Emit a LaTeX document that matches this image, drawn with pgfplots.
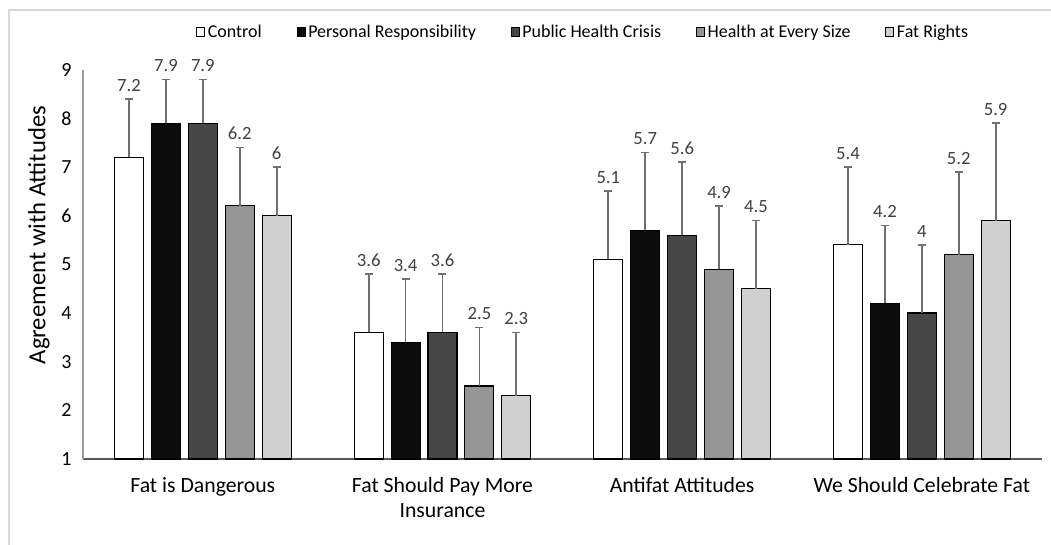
\documentclass[border=0pt]{standalone}
\usepackage{fontspec}
\setmainfont{Carlito}
\usepackage{pgfplots}
\usepackage{pgfplotstable}
\pgfplotsset{compat=1.18}
\definecolor{cPR}{HTML}{0D0D0D}
\definecolor{cPH}{HTML}{474747}
\definecolor{cHA}{HTML}{959595}
\definecolor{cFR}{HTML}{D0D0D0}
\definecolor{errc}{HTML}{707070}
\definecolor{axc}{HTML}{595959}
\definecolor{brd}{HTML}{D9D9D9}
\definecolor{lbl}{HTML}{404040}
\pgfplotstableread{
x c ce p pe h he s se f fe
0 7.2 1.2 7.9 0.9 7.9 0.9 6.2 1.2 6 1.0
1 3.6 1.2 3.4 1.3 3.6 1.2 2.5 1.2 2.3 1.3
2 5.1 1.4 5.7 1.6 5.6 1.5 4.9 1.3 4.5 1.4
3 5.4 1.6 4.2 1.6 4 1.4 5.2 1.7 5.9 2.0
}\datatable
\pgfplotsset{
  mybar/.style={draw=black, line width=0.8pt, fill=#1,
      error bars/y dir=plus, error bars/y explicit,
      error bars/error mark=-,
      error bars/error bar style={draw=errc, line width=1.3pt},
      error bars/error mark options={rotate=90, draw=errc, line width=1.3pt, mark size=3pt},
  },
}
\begin{document}
\begin{tikzpicture}
\path[use as bounding box] (-62.25pt,-63.75pt) rectangle (726pt,344.25pt);
\begin{axis}[
  at={(0,0)}, anchor=south west,
  scale only axis,
  width=719pt, height=292pt,
  xmin=-0.5, xmax=3.5,
  ymin=1, ymax=9,
  ytick={1,2,...,9},
  xtick={0,1,2,3},
  xticklabels={Fat is Dangerous,{Fat Should Pay More\\Insurance},Antifat Attitudes,We Should Celebrate Fat},
  xticklabel style={align=center, font=\fontsize{16.3}{19}\selectfont, yshift=-10pt},
  yticklabel style={font=\fontsize{15}{18}\selectfont, xshift=-5pt},
  /pgf/number format/assume math mode=true,
  major tick length=0pt,
  axis x line*=bottom,
  axis y line*=left,
  x axis line style={axc, line width=1.3pt, -},
  y axis line style={axc!60, line width=0.8pt, -},
  ylabel={Agreement with Attitudes},
  ylabel style={font=\fontsize{18.5}{22}\selectfont, at={(axis description cs:-0.046,0.575)}, anchor=center},
  ybar=0pt,
  bar width=0.121,
  nodes near coords={\fontsize{14}{16}\selectfont\pgfmathprintnumber{\pgfplotspointmeta}},
  every node near coord/.append style={text=lbl, anchor=south, shift={(axis direction cs:0,\err)}, yshift=2pt},
  legend style={at={(0.522,1)}, anchor=south, yshift=18.5pt, draw=none, font=\fontsize{13.5}{16}\selectfont, legend columns=-1,
    /tikz/every even column/.append style={column sep=24pt}},
  legend image code/.code={\draw[#1, line width=0.8pt] (0pt,-3.5pt) rectangle (6pt,3.5pt);},
  clip=false,
]
\addplot[mybar=white, bar shift=-0.308, visualization depends on={\thisrow{ce} \as \err}] table[x=x, y=c, y error=ce] {\datatable};
\addlegendentry{Control}
\addplot[mybar=cPR, bar shift=-0.154, visualization depends on={\thisrow{pe} \as \err}] table[x=x, y=p, y error=pe] {\datatable};
\addlegendentry{Personal Responsibility}
\addplot[mybar=cPH, bar shift=0, visualization depends on={\thisrow{he} \as \err}] table[x=x, y=h, y error=he] {\datatable};
\addlegendentry{Public Health Crisis}
\addplot[mybar=cHA, bar shift=0.154, visualization depends on={\thisrow{se} \as \err}] table[x=x, y=s, y error=se] {\datatable};
\addlegendentry{Health at Every Size}
\addplot[mybar=cFR, bar shift=0.308, visualization depends on={\thisrow{fe} \as \err}] table[x=x, y=f, y error=fe] {\datatable};
\addlegendentry{Fat Rights}
\end{axis}
\draw[brd, line width=0.8pt] (-55.5pt,-70pt) -- (-55.5pt,336.75pt) -- (730pt,336.75pt);
\end{tikzpicture}
\end{document}
